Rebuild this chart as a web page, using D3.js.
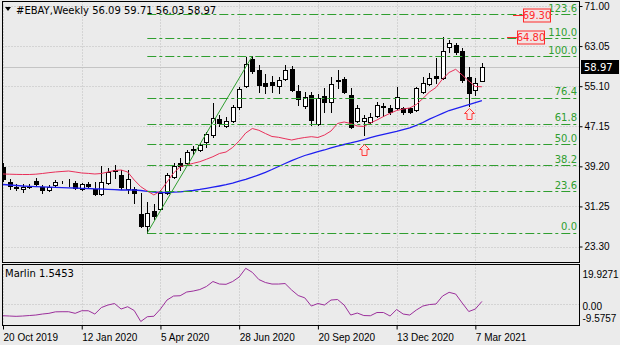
<!DOCTYPE html>
<html>
<head>
<meta charset="utf-8">
<script src="https://cdn.jsdelivr.net/npm/d3@7"></script>
<style>
  html, body { margin: 0; padding: 0; background: #ebebeb; }
  svg { display: block; font-family: "DejaVu Sans", Verdana, sans-serif; font-size: 9.2px; }
</style>
</head>
<body>
<svg id="chart" width="620" height="345"></svg>
<script>
// ---- data: weekly EBAY candles, 20 Oct 2019 .. 14 Mar 2021 ----
const symbolTitle = "#EBAY,Weekly";
const firstWeek = "2019-10-20";
const lastWeek = "2021-03-14";

const open = [39.13, 36.03, 35.2, 34.7, 35.2, 36.35, 35.1, 34.5, 35.5, 36.0,
  36.1, 35.85, 34.7, 35.7, 34.65, 33.67, 35.85, 38.2, 37.5, 34.7,
  34.65, 29.75, 27.4, 30.4, 30.7, 33.97, 37.1, 39.9, 39.8, 42.5,
  42.44, 44.09, 45.4, 48.53, 47.2, 48.25, 50.9, 55.13, 60.43, 58.3,
  55.67, 55.99, 55.2, 56.52, 58.5, 54.14, 51.23, 53.35, 47.53, 53.21,
  52.0, 56.2, 56.52, 53.35, 48.2, 48.2, 48.05, 49.18, 51.0, 50.83,
  50.71, 50.71, 50.71, 50.37, 54.0, 55.53, 57.12, 56.66, 62.9, 63.27,
  62.13, 56.98, 54.34, 56.09];
const high = [39.9, 36.7, 35.7, 35.7, 35.6, 36.9, 35.5, 35.5, 36.4, 36.2,
  36.7, 36.3, 35.9, 36.0, 36.17, 39.3, 38.8, 39.5, 38.5, 38.5,
  35.1, 33.85, 32.2, 31.7, 34.5, 37.9, 39.9, 40.85, 42.44, 43.2,
  43.8, 46.0, 51.7, 49.4, 48.98, 51.4, 54.9, 60.9, 61.06, 59.3,
  57.5, 57.1, 56.98, 59.3, 59.1, 55.33, 53.94, 53.9, 53.55, 54.68,
  56.98, 58.3, 56.98, 54.7, 51.37, 49.4, 49.78, 52.02, 51.76, 51.3,
  55.0, 51.0, 51.0, 55.0, 56.98, 57.65, 60.63, 64.85, 64.26, 63.6,
  62.67, 58.84, 56.78, 59.71];
const low = [36.3, 34.7, 34.5, 34.1, 34.9, 35.4, 33.9, 34.3, 35.3, 35.9,
  35.3, 34.7, 34.5, 35.1, 33.5, 33.5, 35.6, 36.9, 34.8, 33.9,
  31.9, 27.1, 26.02, 28.8, 30.5, 33.7, 36.9, 38.5, 39.5, 41.6,
  42.2, 43.0, 45.0, 47.2, 47.0, 48.0, 50.6, 54.9, 57.7, 54.0,
  53.75, 53.9, 53.75, 56.3, 54.1, 51.37, 50.77, 47.4, 47.3, 50.04,
  50.04, 54.7, 53.7, 46.86, 47.9, 45.43, 47.8, 49.0, 49.18, 49.6,
  50.5, 49.6, 49.7, 50.1, 53.7, 55.3, 55.67, 56.5, 61.94, 61.5,
  56.0, 51.17, 53.35, 56.03];
const close = [36.69, 35.3, 35.0, 35.1, 35.3, 35.64, 34.5, 35.1, 36.1, 36.1,
  36.0, 34.85, 35.7, 35.3, 33.67, 36.17, 38.14, 38.4, 35.2, 36.7,
  33.97, 27.4, 30.0, 29.35, 33.97, 37.48, 39.27, 39.27, 42.1, 42.7,
  43.43, 45.55, 48.85, 47.74, 48.25, 50.9, 54.48, 59.5, 58.17, 55.33,
  55.13, 55.33, 56.32, 58.31, 54.34, 52.55, 52.9, 48.39, 52.7, 51.9,
  55.47, 56.4, 54.0, 47.06, 50.71, 48.85, 49.04, 51.37, 51.1, 49.92,
  53.0, 49.92, 50.04, 54.68, 55.67, 56.66, 56.66, 62.13, 63.6, 61.94,
  56.32, 53.8, 55.79, 58.97];

// fast (red) and slow (blue) moving averages
const maFast = [37.68, 37.64, 37.60, 37.58, 37.58, 37.64, 37.78, 37.94, 38.08, 38.18,
  38.27, 38.08, 37.88, 37.80, 37.68, 37.78, 38.08, 38.37, 38.47, 38.08,
  36.49, 35.16, 34.31, 33.52, 34.31, 36.09, 37.88, 39.13, 39.46, 39.80,
  40.12, 40.60, 41.11, 41.75, 42.04, 42.94, 44.22, 45.81, 46.70, 46.35,
  45.71, 45.12, 44.96, 44.68, 44.42, 44.70, 44.92, 45.08, 44.92, 45.41,
  46.21, 47.70, 47.99, 47.70, 47.20, 47.10, 47.80, 48.39, 49.08, 49.72,
  50.27, 50.57, 50.77, 51.46, 52.65, 53.94, 54.84, 56.52, 57.81, 58.45,
  57.31, 56.12, 55.03, 54.99];
const maSlow = [35.60, 35.50, 35.40, 35.30, 35.24, 35.18, 35.12, 35.06, 35.02, 34.98,
  34.94, 34.90, 34.84, 34.80, 34.74, 34.70, 34.64, 34.59, 34.51, 34.51,
  34.51, 34.41, 34.25, 34.11, 34.01, 34.01, 34.07, 34.15, 34.27, 34.41,
  34.61, 34.84, 35.06, 35.30, 35.56, 35.89, 36.29, 36.63, 37.04, 37.52,
  38.02, 38.57, 39.17, 39.76, 40.32, 40.85, 41.35, 41.74, 42.10, 42.44,
  42.84, 43.19, 43.53, 43.83, 44.17, 44.52, 44.90, 45.22, 45.55, 45.85,
  46.15, 46.49, 46.84, 47.32, 47.89, 48.55, 49.14, 49.72, 50.27, 50.65,
  51.05, 51.44, 51.84, 52.22];

// Marlin oscillator (lower pane)
const marlinName = "Marlin";
const marlin = [-6.38, -6.54, -6.71, -6.54, -6.27, -5.99, -5.44, -5.05, -4.22, -4.16,
  -4.16, -5.05, -3.61, -3.61, -5.44, -1.83, -0.44, 0.39, -2.66, -1.39,
  -3.49, -9.5757, -6.93, -6.66, -2.66, 2.33, 4.55, 4.71, 6.77, 7.32,
  8.15, 9.82, 12.59, 11.20, 11.04, 12.59, 15.09, 19.9271, 17.69, 13.70,
  12.04, 11.20, 11.20, 11.48, 7.88, 4.83, 3.55, -1.00, 0.39, -0.44,
  2.33, 2.61, -0.44, -5.99, -4.88, -6.27, -6.38, -4.60, -4.60, -6.54,
  -2.94, -5.44, -5.99, -3.22, -1.00, -0.17, 0.11, 4.55, 6.60, 5.66,
  0.67, -4.05, -2.66, 1.5453];

// axis ticks
const priceTicks = [71.00, 63.05, 55.10, 47.15, 39.20, 31.25, 23.30];
const dateTicks = ["2019-10-20", "2020-01-12", "2020-04-05", "2020-06-28",
  "2020-09-20", "2020-12-13", "2021-03-07"];
const marlinTicks = [19.9271, 0, -9.5757];
const marlinTickLabels = ["19.9271", "0.00", "-9.5757"];

// Fibonacci retracement from the March 2020 low to the July 2020 high
const fibFromWeek = "2020-03-22", fibLow = 26.02;
const fibToWeek = "2020-07-12", fibHigh = 61.06;
const fibLevels = [0, 23.6, 38.2, 50, 61.8, 76.4, 100, 110, 123.6];
const fibLabels = ["0.0", "23.6", "38.2", "50.0", "61.8", "76.4", "100.0", "110.0", "123.6"];

// target price labels and signal arrows
const targetPrices = [69.30, 64.80];
const arrowWeeks = ["2020-11-08", "2021-02-28"];
const arrowPrices = [43.6, 50.8];

// ---- layout ----
const plotL = 2.5, plotR = 579.5, mainT = 1.5, mainB = 262.5, indT = 264.5, indB = 325.5;
const bg = "#ebebeb";
const gridColor = "#bdbdbd";
const fibColor = "#2f9e2f";

const svg = d3.select("#chart");
svg.append("rect").attr("width", 620).attr("height", 345).attr("fill", bg);

const parse = d3.utcParse("%Y-%m-%d");
const weeks = d3.utcSunday.range(parse(firstWeek), d3.utcDay.offset(parse(lastWeek), 1));

const x = d3.scaleUtc().domain([weeks[0], weeks[weeks.length - 1]]).range([3, 481.9]);
const y = d3.scaleLinear().domain([23.30, 71.00]).range([246.5, 6]);
const yM = d3.scaleLinear().domain([-9.5757, 19.9271]).range([321.5, 268.3]);
const px = v => Math.round(v) + 0.5;

const defs = svg.append("defs");
defs.append("clipPath").attr("id", "clipMain").append("rect")
  .attr("x", plotL).attr("y", mainT).attr("width", plotR - plotL).attr("height", mainB - mainT);
defs.append("clipPath").attr("id", "clipInd").append("rect")
  .attr("x", plotL).attr("y", indT).attr("width", plotR - plotL).attr("height", indB - indT);

// ---- grid ----
const grid = svg.append("g").attr("stroke", gridColor).attr("stroke-dasharray", "1,2");
grid.selectAll("line.h").data(priceTicks).join("line")
  .attr("x1", plotL).attr("x2", plotR).attr("y1", d => px(y(d))).attr("y2", d => px(y(d)));
dateTicks.forEach(d => {
  const gx = px(x(parse(d)));
  grid.append("line").attr("x1", gx).attr("x2", gx).attr("y1", mainT).attr("y2", mainB);
  grid.append("line").attr("x1", gx).attr("x2", gx).attr("y1", indT).attr("y2", indB);
});
grid.append("line").attr("x1", plotL).attr("x2", plotR)
  .attr("y1", px(yM(0))).attr("y2", px(yM(0)));

const main = svg.append("g").attr("clip-path", "url(#clipMain)");

// bid line
main.append("line").attr("x1", plotL).attr("x2", plotR)
  .attr("y1", px(y(close[close.length - 1]))).attr("y2", px(y(close[close.length - 1])))
  .attr("stroke", "#c4c4c4");

// ---- candles ----
const bars = weeks.map((d, i) => ({ date: d, o: open[i], h: high[i], l: low[i], c: close[i] }));
const cx = d => px(x(d.date));
const cg = main.append("g").attr("shape-rendering", "crispEdges");
cg.selectAll("line").data(bars).join("line")
  .attr("x1", cx).attr("x2", cx)
  .attr("y1", d => Math.round(y(d.h))).attr("y2", d => Math.round(y(d.l)) + 1)
  .attr("stroke", "#000");
cg.selectAll("rect").data(bars).join("rect")
  .attr("x", d => cx(d) - 2)
  .attr("y", d => Math.round(y(Math.max(d.o, d.c))) + 0.5)
  .attr("width", 4)
  .attr("height", d => Math.max(0, Math.round(y(Math.min(d.o, d.c))) - Math.round(y(Math.max(d.o, d.c)))))
  .attr("fill", d => d.c >= d.o ? "#ffffff" : "#000000")
  .attr("stroke", "#000");

// ---- moving averages ----
const maLine = arr => d3.line().x((d, i) => x(weeks[i])).y(d => y(d))(arr);
main.append("path").attr("d", maLine(maSlow)).attr("fill", "none")
  .attr("stroke", "#1f1ff0").attr("stroke-width", 1.3);
main.append("path").attr("d", maLine(maFast)).attr("fill", "none")
  .attr("stroke", "#e8305a").attr("stroke-width", 1);

// ---- Fibonacci ----
const fibX0 = x(parse(fibFromWeek));
const fibEnd = 577;
const fib = svg.append("g");
fib.selectAll("line").data(fibLevels).join("line")
  .attr("x1", fibX0).attr("x2", fibEnd)
  .attr("y1", d => px(y(fibLow + (fibHigh - fibLow) * d / 100)))
  .attr("y2", d => px(y(fibLow + (fibHigh - fibLow) * d / 100)))
  .attr("stroke", fibColor).attr("stroke-dasharray", "9,3,3,3");
fib.selectAll("text").data(fibLevels).join("text")
  .attr("x", 577).attr("y", d => y(fibLow + (fibHigh - fibLow) * d / 100) - 2.5)
  .attr("text-anchor", "end").attr("fill", fibColor).attr("font-size", "10px")
  .text((d, i) => fibLabels[i]);
svg.append("line")
  .attr("x1", x(parse(fibFromWeek))).attr("y1", y(fibLow))
  .attr("x2", x(parse(fibToWeek))).attr("y2", y(fibHigh))
  .attr("stroke", fibColor).attr("stroke-width", 1);

// ---- target price labels ----
const targetBoxX = [523, 517];
targetPrices.forEach((p, i) => {
  const ty = px(y(p));
  const bx = targetBoxX[i];
  svg.append("line").attr("x1", bx - 10).attr("x2", bx).attr("y1", ty).attr("y2", ty)
    .attr("stroke", "#ff2a2a");
  svg.append("rect").attr("x", bx + 0.5).attr("y", ty - 6.5).attr("width", 27).attr("height", 13)
    .attr("fill", "#f2e4e4").attr("stroke", "#ff2a2a");
  svg.append("text").attr("x", bx + 14).attr("y", ty + 3.6).attr("text-anchor", "middle")
    .attr("fill", "#ff2a2a").attr("font-size", "10px").text(d3.format(".2f")(p));
});

// ---- signal arrows ----
const arrowPath = "M0,0 L5,5 L2.5,5 L2.5,11 L-2.5,11 L-2.5,5 L-5,5 Z";
arrowWeeks.forEach((w, i) => {
  svg.append("path").attr("d", arrowPath)
    .attr("transform", `translate(${px(x(parse(w)))},${Math.round(y(arrowPrices[i])) + 0.5})`)
    .attr("fill", "#f6e4e4").attr("stroke", "#ff3b3b");
});

// ---- Marlin pane ----
svg.append("g").attr("clip-path", "url(#clipInd)").append("path")
  .attr("d", d3.line().x((d, i) => x(weeks[i])).y(d => yM(d))(marlin))
  .attr("fill", "none").attr("stroke", "#9b2f9b").attr("stroke-width", 1);

// ---- frames ----
svg.append("rect").attr("x", plotL).attr("y", mainT).attr("width", plotR - plotL).attr("height", mainB - mainT)
  .attr("fill", "none").attr("stroke", "#000");
svg.append("rect").attr("x", plotL).attr("y", indT).attr("width", plotR - plotL).attr("height", indB - indT)
  .attr("fill", "none").attr("stroke", "#000");

// ---- axes ----
const yAxis = svg.append("g").attr("transform", `translate(${plotR},0)`)
  .call(d3.axisRight(y).tickValues(priceTicks).tickFormat(d3.format(".2f")).tickSize(3).tickPadding(2));
yAxis.select(".domain").remove();
yAxis.selectAll("text").attr("font-size", "10px").attr("fill", "#000").attr("font-family", null);
yAxis.selectAll("line").attr("stroke", "#000");

const mAxis = svg.append("g").attr("transform", `translate(${plotR},0)`)
  .call(d3.axisRight(yM).tickValues(marlinTicks).tickFormat((d, i) => marlinTickLabels[i]).tickSize(0).tickPadding(3));
mAxis.select(".domain").remove();
mAxis.selectAll("text").attr("font-size", "10px").attr("fill", "#000").attr("font-family", null)
  .attr("dy", (d, i) => i === 0 ? "0.9em" : (i === 2 ? "-0.05em" : "0.5em"));

const xAxis = svg.append("g").attr("transform", `translate(0,${indB})`)
  .call(d3.axisBottom(x).tickValues(dateTicks.map(parse)).tickFormat(d3.utcFormat("%-d %b %Y")).tickSize(4).tickPadding(4));
xAxis.select(".domain").remove();
xAxis.selectAll("text").attr("font-size", "10px").attr("fill", "#000").attr("font-family", null)
  .attr("text-anchor", "start").attr("x", 0);
xAxis.selectAll("line").attr("stroke", "#000");

// current price box
const last = close.length - 1;
const cy = y(close[last]);
svg.append("rect").attr("x", 581).attr("y", Math.round(cy) - 7).attr("width", 38).attr("height", 14).attr("fill", "#000");
svg.append("text").attr("x", 584).attr("y", Math.round(cy) + 4).attr("fill", "#fff").attr("font-size", "10px")
  .text(d3.format(".2f")(close[last]));

// ---- titles ----
svg.append("path").attr("d", "M5,7 L11,7 L8,11 Z").attr("fill", "#000");
svg.append("text").attr("x", 16).attr("y", 14).attr("font-size", "10px").attr("fill", "#000")
  .text(`${symbolTitle}  ${[open[last], high[last], low[last], close[last]].map(d3.format(".2f")).join(" ")}`);
svg.append("text").attr("x", 5).attr("y", 277).attr("font-size", "10px").attr("fill", "#000")
  .text(`${marlinName} ${d3.format(".4f")(marlin[last])}`);
</script>
</body>
</html>
